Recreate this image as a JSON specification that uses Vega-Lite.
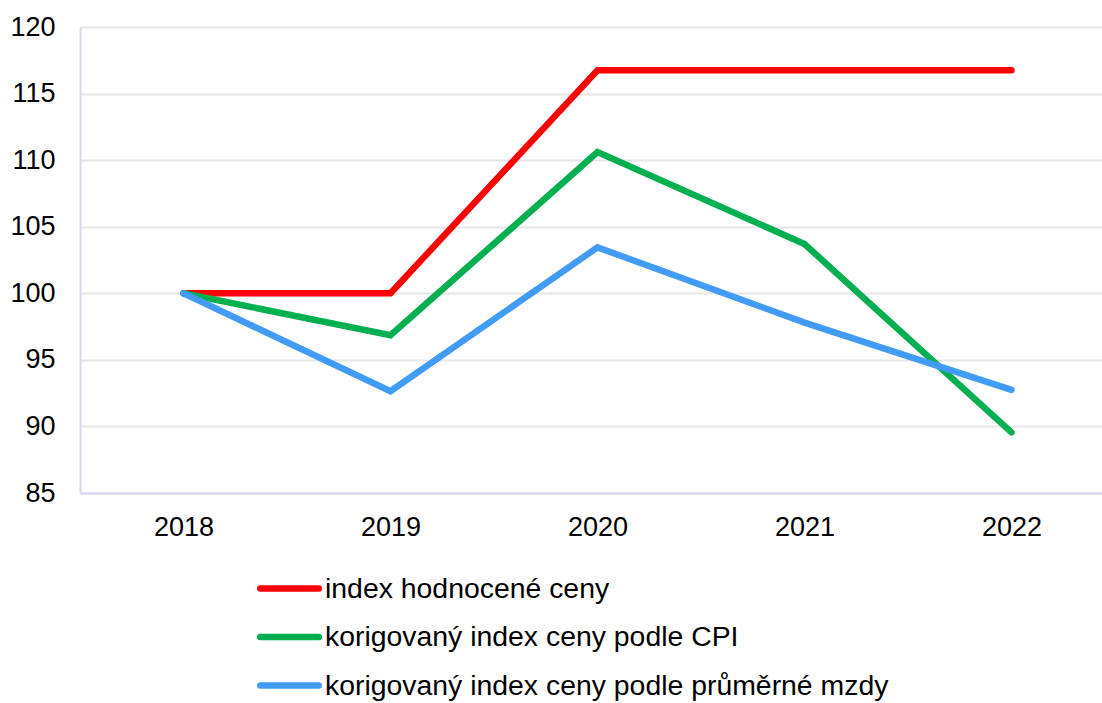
{
  "$schema": "https://vega.github.io/schema/vega-lite/v6.json",
  "width": 1022,
  "height": 466,
  "autosize": {"type": "none"},
  "padding": {"left": 80, "top": 27, "right": 0, "bottom": 210},
  "background": "white",
  "config": {
    "view": {"stroke": null},
    "font": "Liberation Sans"
  },
  "data": {
    "values": [
      {"rok": 2018, "rada": "index hodnocené ceny", "hodnota": 100},
      {"rok": 2019, "rada": "index hodnocené ceny", "hodnota": 100},
      {"rok": 2020, "rada": "index hodnocené ceny", "hodnota": 116.75},
      {"rok": 2021, "rada": "index hodnocené ceny", "hodnota": 116.75},
      {"rok": 2022, "rada": "index hodnocené ceny", "hodnota": 116.75},
      {"rok": 2018, "rada": "korigovaný index ceny podle CPI", "hodnota": 100},
      {"rok": 2019, "rada": "korigovaný index ceny podle CPI", "hodnota": 96.85},
      {"rok": 2020, "rada": "korigovaný index ceny podle CPI", "hodnota": 110.6},
      {"rok": 2021, "rada": "korigovaný index ceny podle CPI", "hodnota": 103.7},
      {"rok": 2022, "rada": "korigovaný index ceny podle CPI", "hodnota": 89.55},
      {"rok": 2018, "rada": "korigovaný index ceny podle průměrné mzdy", "hodnota": 100},
      {"rok": 2019, "rada": "korigovaný index ceny podle průměrné mzdy", "hodnota": 92.65},
      {"rok": 2020, "rada": "korigovaný index ceny podle průměrné mzdy", "hodnota": 103.45},
      {"rok": 2021, "rada": "korigovaný index ceny podle průměrné mzdy", "hodnota": 97.8},
      {"rok": 2022, "rada": "korigovaný index ceny podle průměrné mzdy", "hodnota": 92.75}
    ]
  },
  "mark": {"type": "line", "strokeWidth": 6.5, "strokeCap": "round", "strokeJoin": "miter"},
  "encoding": {
    "x": {
      "field": "rok",
      "type": "quantitative",
      "scale": {"domain": [2017.5, 2022.4372], "nice": false, "zero": false},
      "axis": {
        "title": null,
        "values": [2018, 2019, 2020, 2021, 2022],
        "format": "d",
        "labelAngle": 0,
        "labelFontSize": 27,
        "labelColor": "#000000",
        "labelPadding": 21,
        "labelFlush": false,
        "labelOverlap": false,
        "ticks": false,
        "tickSize": 0,
        "domain": true,
        "domainColor": "#DCD6EE",
        "domainWidth": 2,
        "grid": false
      }
    },
    "y": {
      "field": "hodnota",
      "type": "quantitative",
      "scale": {"domain": [85, 120], "nice": false, "zero": false},
      "axis": {
        "title": null,
        "values": [85, 90, 95, 100, 105, 110, 115, 120],
        "labelFontSize": 27,
        "labelColor": "#000000",
        "labelPadding": 25,
        "labelFlush": false,
        "ticks": false,
        "tickSize": 0,
        "domain": true,
        "domainColor": "#DCD6EE",
        "domainWidth": 2,
        "grid": true,
        "gridColor": "#E6E6E6",
        "gridWidth": 2
      }
    },
    "color": {
      "field": "rada",
      "type": "nominal",
      "scale": {
        "domain": ["index hodnocené ceny", "korigovaný index ceny podle CPI", "korigovaný index ceny podle průměrné mzdy"],
        "range": ["#FF0000", "#00B050", "#409CF7"]
      },
      "legend": {
        "title": null,
        "orient": "none",
        "direction": "vertical",
        "legendX": 177,
        "legendY": 529,
        "padding": 0,
        "symbolType": "stroke",
        "symbolSize": 3422,
        "symbolStrokeWidth": 6.5,
        "labelFontSize": 28.4,
        "labelColor": "#000000",
        "labelOffset": 3,
        "rowPadding": 1.5,
        "labelLimit": 1000,
        "encode": {"symbols": {"update": {"strokeCap": {"value": "round"}}}}
      }
    },
    "order": {"field": "rada"}
  }
}
